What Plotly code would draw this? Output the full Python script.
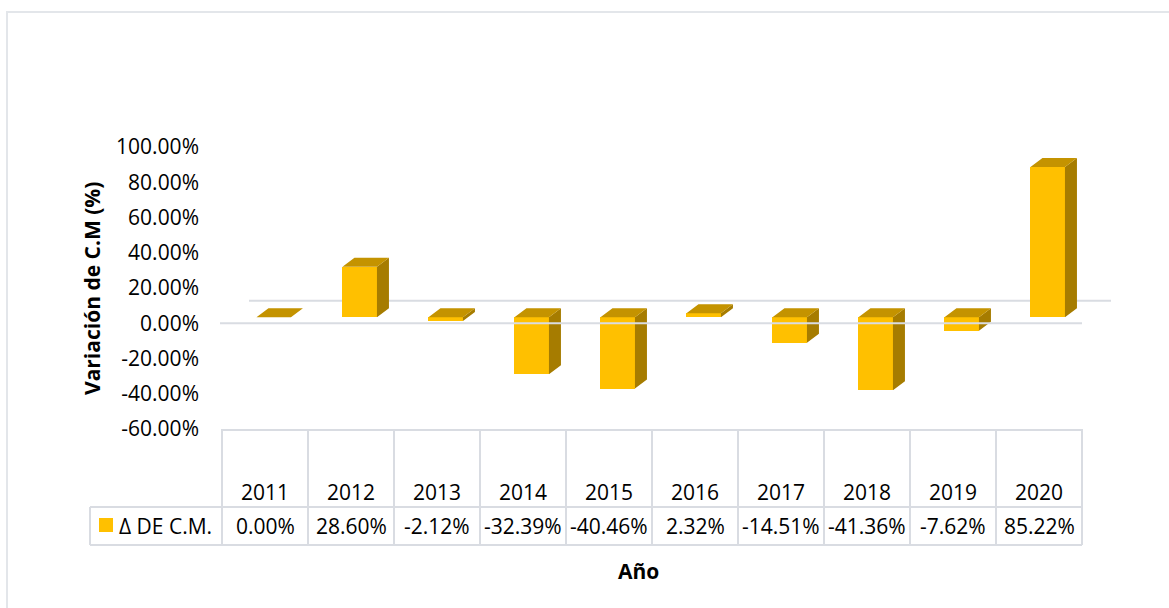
import plotly.graph_objects as go

# ---------------------------------------------------------
# DATA
# ---------------------------------------------------------
years = ["2011", "2012", "2013", "2014", "2015", "2016", "2017", "2018", "2019", "2020"]
variacion = [0.00, 28.60, -2.12, -32.39, -40.46, 2.32, -14.51, -41.36, -7.62, 85.22]
y_ticks = [-60, -40, -20, 0, 20, 40, 60, 80, 100]
serie_name = "Δ DE C.M."

# ---------------------------------------------------------
# GEOMETRY (pixels of the 1169x608 page)
# ---------------------------------------------------------
FW, FH = 1169, 608
L, R, T, B = 222, 1082, 147, 429
W, H = R - L, B - T
Y0, Y1 = -60, 100
PX_PER_UNIT = H / (Y1 - Y0)          # px per percent
COL = W / len(years)                 # px per category

def px(x):      # pixel x -> paper
    return (x - L) / W

def py(y):      # pixel y -> paper
    return (B - y) / H

def vy(v):      # data value -> paper y
    return (v - Y0) / (Y1 - Y0)

FONT = "Open Sans"
FS = 21
GOLD = "#FFC000"
TOP = "#C49300"
SIDE = "#A67C00"
GRID = "#D9DCE2"

# 3D look: bars sit slightly behind the front floor edge
base = 6 / PX_PER_UNIT
dx = 12 / COL
dy = 9 / PX_PER_UNIT
bar_w = 34.5 / COL
shift = 8.7 / COL

centers = [i + 0.5 + shift for i in range(len(years))]

fig = go.Figure()

fig.add_trace(go.Bar(
    x=centers, y=variacion, base=base, width=bar_w,
    marker=dict(color=GOLD, line=dict(width=0)),
    showlegend=False, hoverinfo="skip"
))

top_x, top_y, side_x, side_y = [], [], [], []
for c, v in zip(centers, variacion):
    x0, x1 = c - bar_w / 2, c + bar_w / 2
    yt = base + max(v, 0)
    yb = base + min(v, 0)
    top_x += [x0, x1, x1 + dx, x0 + dx, x0, None]
    top_y += [yt, yt, yt + dy, yt + dy, yt, None]
    if yt - yb > 0:
        side_x += [x1, x1 + dx, x1 + dx, x1, x1, None]
        side_y += [yt, yt + dy, yb + dy, yb, yt, None]

fig.add_trace(go.Scatter(x=side_x, y=side_y, mode="lines", fill="toself",
                         fillcolor=SIDE, line=dict(width=0), showlegend=False,
                         hoverinfo="skip"))
fig.add_trace(go.Scatter(x=top_x, y=top_y, mode="lines", fill="toself",
                         fillcolor=TOP, line=dict(width=0), showlegend=False,
                         hoverinfo="skip"))

shapes = []
# back floor edge (behind bars) and front floor edge (over bars)
back_off = 22.5 / PX_PER_UNIT
shapes.append(dict(type="line", xref="paper", yref="paper",
                   x0=px(249), x1=px(1111), y0=vy(back_off), y1=vy(back_off),
                   line=dict(color=GRID, width=2), layer="below"))
shapes.append(dict(type="line", xref="paper", yref="paper",
                   x0=px(220), x1=px(R), y0=vy(0), y1=vy(0),
                   line=dict(color=GRID, width=2), layer="above"))

# data table grid
row1, row2 = 507, 545
for k in range(len(years) + 1):
    xk = L + k * COL
    shapes.append(dict(type="line", xref="paper", yref="paper",
                       x0=px(xk), x1=px(xk), y0=py(B), y1=py(row2),
                       line=dict(color=GRID, width=2)))
shapes.append(dict(type="line", xref="paper", yref="paper",
                   x0=px(90), x1=px(90), y0=py(row1), y1=py(row2),
                   line=dict(color=GRID, width=2)))
shapes.append(dict(type="line", xref="paper", yref="paper",
                   x0=px(L), x1=px(R), y0=py(B + 1), y1=py(B + 1),
                   line=dict(color=GRID, width=2)))
for yy in (row1, row2):
    shapes.append(dict(type="line", xref="paper", yref="paper",
                       x0=px(90), x1=px(R), y0=py(yy), y1=py(yy),
                       line=dict(color=GRID, width=2)))
# legend key
shapes.append(dict(type="rect", xref="paper", yref="paper",
                   x0=px(99), x1=px(113), y0=py(518), y1=py(532),
                   fillcolor=GOLD, line=dict(width=0)))
# chart outer border
shapes.append(dict(type="rect", xref="paper", yref="paper",
                   x0=px(7), x1=px(FW + 10), y0=py(12), y1=py(FH + 10),
                   line=dict(color="#E3E6EA", width=2), layer="below"))

annotations = []
for k, (yr, v) in enumerate(zip(years, variacion)):
    xc = L + (k + 0.5) * COL
    annotations.append(dict(x=px(xc), y=py(492), xref="paper", yref="paper",
                            text=yr, showarrow=False, xanchor="center", yanchor="middle",
                            font=dict(family=FONT, size=FS, color="#000")))
    annotations.append(dict(x=px(xc), y=py(526), xref="paper", yref="paper",
                            text=f"{v:.2f}%", showarrow=False, xanchor="center", yanchor="middle",
                            font=dict(family=FONT, size=FS, color="#000")))
annotations.append(dict(x=px(117), y=py(526), xref="paper", yref="paper",
                        text=serie_name, showarrow=False, xanchor="left", yanchor="middle",
                        font=dict(family=FONT, size=FS, color="#000")))
annotations.append(dict(x=px(92), y=py(289), xref="paper", yref="paper",
                        text="<b>Variación de C.M (%)</b>", textangle=-90, showarrow=False,
                        xanchor="center", yanchor="middle",
                        font=dict(family=FONT, size=FS, color="#000")))
annotations.append(dict(x=px(638), y=py(571), xref="paper", yref="paper",
                        text="<b>Año</b>", showarrow=False, xanchor="center", yanchor="middle",
                        font=dict(family=FONT, size=FS, color="#000")))

fig.update_layout(
    width=FW, height=FH,
    margin=dict(l=L, r=FW - R, t=T, b=FH - B, pad=0),
    paper_bgcolor="white", plot_bgcolor="white",
    bargap=0,
    xaxis=dict(range=[0, len(years)], showgrid=False, zeroline=False,
               showticklabels=False, showline=False, fixedrange=True),
    yaxis=dict(range=[Y0, Y1], showgrid=False, zeroline=False, showline=False,
               tickvals=y_ticks, ticktext=[f"{t:.2f}%" for t in y_ticks],
               ticks="", ticklabelstandoff=22,
               tickfont=dict(family=FONT, size=FS, color="#000")),
    shapes=shapes,
    annotations=annotations,
    showlegend=False,
)

# page body has a default 8px margin; drop it so the figure fills the window
fig.write_html("out.html", config={"displayModeBar": False},
               post_script="document.body.style.margin='0';")
